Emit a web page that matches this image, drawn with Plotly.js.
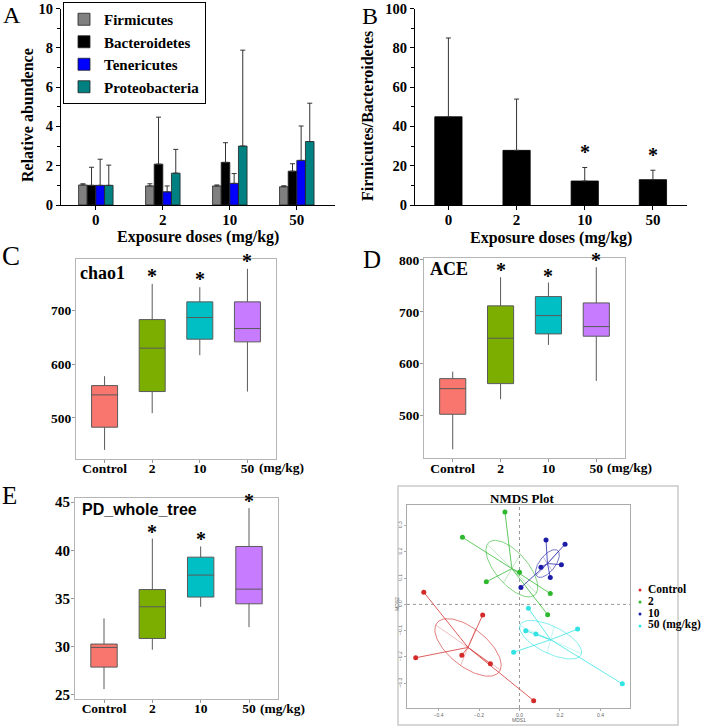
<!DOCTYPE html>
<html><head><meta charset="utf-8">
<script src="https://cdn.plot.ly/plotly-3.0.1.min.js"></script>
<style>html,body{margin:0;padding:0;background:#fff}#chart{width:709px;height:728px}</style>
</head><body><div id="chart"></div>
<script>
// ---------------- Panel A: relative abundance ----------------
const doses = ['0', '2', '10', '50'];
const phyla = ['Firmicutes', 'Bacteroidetes', 'Tenericutes', 'Proteobacteria'];
const firmicutes = [1.02, 0.97, 0.97, 0.93];
const firmicutesErr = [0.06, 0.11, 0.05, 0.05];
const bacteroidetes = [1.00, 2.08, 2.17, 1.72];
const bacteroidetesErr = [0.92, 2.39, 1.00, 0.38];
const tenericutes = [1.00, 0.67, 1.10, 2.27];
const tenericutesErr = [1.33, 0.30, 0.50, 1.75];
const proteobacteria = [1.00, 1.62, 3.00, 3.23];
const proteobacteriaErr = [1.03, 1.21, 4.88, 1.95];

// ---------------- Panel B: Firmicutes/Bacteroidetes ----------------
const fbRatio = [44.9, 27.8, 12.2, 12.9];
const fbRatioErr = [40.1, 26.1, 6.9, 4.8];
const fbSignificant = [false, false, true, true];

// ---------------- Panels C-E: alpha diversity box plots ----------------
const groups = ['Control', '2', '10', '50'];
const groupSignificant = [false, true, true, true];
const chao1Lower = [440.6, 508.9, 616.9, 549.2];
const chao1Q1 = [482.8, 549.2, 646.7, 641.7];
const chao1Median = [543.0, 630.0, 687.0, 666.5];
const chao1Q3 = [560.3, 683.2, 716.2, 716.2];
const chao1Upper = [577.8, 749.7, 743.5, 777.7];

const aceLower = [435.3, 531.6, 636.2, 566.9];
const aceQ1 = [502.7, 561.7, 657.4, 653.0];
const aceMedian = [552.0, 649.1, 692.7, 671.5];
const aceQ3 = [571.3, 711.4, 729.3, 717.1];
const aceUpper = [584.8, 766.6, 756.3, 785.9];

const pdLower = [25.60, 29.68, 34.14, 32.03];
const pdQ1 = [27.88, 30.85, 35.15, 34.45];
const pdMedian = [29.92, 34.14, 37.43, 35.97];
const pdQ3 = [30.27, 35.93, 39.29, 40.40];
const pdUpper = [32.93, 41.22, 40.40, 44.38];

// ---------------- Panel F: NMDS ----------------
const nmdsGroups = ['Control', '2', '10', '50 (mg/kg)'];
const controlMDS1 = [-0.473, -0.182, -0.513, -0.285, -0.144, 0.070];
const controlMDS2 = [0.046, -0.040, -0.203, -0.193, -0.226, -0.366];
const dose2MDS1 = [-0.072, -0.282, 0.000, -0.164, 0.152, 0.139];
const dose2MDS2 = [0.351, 0.255, 0.122, 0.086, 0.041, -0.039];
const dose10MDS1 = [0.131, 0.225, 0.106, 0.207, 0.152, 0.007];
const dose10MDS2 = [0.245, 0.229, 0.141, 0.151, 0.102, 0.064];
const dose50MDS1 = [0.044, 0.031, 0.081, 0.287, -0.029, 0.508];
const dose50MDS2 = [-0.015, -0.100, -0.113, -0.094, -0.182, -0.302];

// ---------------- styling ----------------
const W = 709, H = 728;
const SERIF = 'Liberation Serif, Times New Roman, serif';
const SANS = 'Liberation Sans, Arial, sans-serif';
const px = v => v / W;
const py = v => 1 - v / H;
const phylaColors = ['#808080', '#000000', '#0000ff', '#008080'];
const boxColors = ['#F8766D', '#7CAE00', '#00BFC4', '#C77CFF'];
const nmdsColors = ['#d42a2a', '#2db82d', '#1c1ca8', '#33e3e3'];
const ELLIPSE_SCALE = 0.75;

const traces = [];

// Panel A bars
const aVals = [firmicutes, bacteroidetes, tenericutes, proteobacteria];
const aErrs = [firmicutesErr, bacteroidetesErr, tenericutesErr, proteobacteriaErr];
phyla.forEach((name, i) => {
  traces.push({
    type: 'bar', name: name, x: doses, y: aVals[i], xaxis: 'x', yaxis: 'y',
    marker: {color: phylaColors[i], line: {color: '#222', width: 0.8}},
    error_y: {type: 'data', symmetric: false, array: aErrs[i], arrayminus: aErrs[i].map(() => 0),
              color: '#333', thickness: 1, width: 2.5},
    hoverinfo: 'skip'
  });
});

// Panel B bars
traces.push({
  type: 'bar', name: 'Firmicutes/Bacteroidetes', x: doses, y: fbRatio, xaxis: 'x2', yaxis: 'y2',
  width: 0.4, showlegend: false,
  marker: {color: '#000', line: {color: '#000', width: 0.8}},
  error_y: {type: 'data', symmetric: false, array: fbRatioErr, arrayminus: fbRatioErr.map(() => 0),
            color: '#333', thickness: 1, width: 2.5},
  hoverinfo: 'skip'
});

// Panels C-E boxes
function addBoxes(xa, ya, lo, q1, med, q3, hi) {
  groups.forEach((g, i) => {
    traces.push({
      type: 'box', xaxis: xa, yaxis: ya, x: [g], name: g, showlegend: false,
      lowerfence: [lo[i]], q1: [q1[i]], median: [med[i]], q3: [q3[i]], upperfence: [hi[i]],
      fillcolor: boxColors[i], line: {color: '#5a5a5a', width: 1}, whiskerwidth: 0,
      boxpoints: false, hoverinfo: 'skip'
    });
  });
}
addBoxes('x3', 'y3', chao1Lower, chao1Q1, chao1Median, chao1Q3, chao1Upper);
addBoxes('x4', 'y4', aceLower, aceQ1, aceMedian, aceQ3, aceUpper);
addBoxes('x5', 'y5', pdLower, pdQ1, pdMedian, pdQ3, pdUpper);

// Panel F NMDS
const mean = a => a.reduce((s, v) => s + v, 0) / a.length;
function ellipseOf(xs, ys, k) {
  const n = xs.length, cx = mean(xs), cy = mean(ys);
  let a = 0, b = 0, c = 0;
  for (let i = 0; i < n; i++) {
    const dx = xs[i] - cx, dy = ys[i] - cy;
    a += dx * dx; b += dx * dy; c += dy * dy;
  }
  a /= (n - 1); b /= (n - 1); c /= (n - 1);
  const m = (a + c) / 2, d = Math.sqrt(((a - c) / 2) ** 2 + b * b);
  const r1 = k * Math.sqrt(m + d), r2 = k * Math.sqrt(Math.max(m - d, 0));
  const th = 0.5 * Math.atan2(2 * b, a - c), ct = Math.cos(th), st = Math.sin(th);
  const ex = [], ey = [];
  for (let j = 0; j <= 90; j++) {
    const t = 2 * Math.PI * j / 90;
    ex.push(cx + r1 * Math.cos(t) * ct - r2 * Math.sin(t) * st);
    ey.push(cy + r1 * Math.cos(t) * st + r2 * Math.sin(t) * ct);
  }
  const axX = [cx - r1 * ct, cx + r1 * ct, null, cx + r2 * st, cx - r2 * st];
  const axY = [cy - r1 * st, cy + r1 * st, null, cy - r2 * ct, cy + r2 * ct];
  return {cx, cy, ex, ey, axX, axY};
}
const nmdsX = [controlMDS1, dose2MDS1, dose10MDS1, dose50MDS1];
const nmdsY = [controlMDS2, dose2MDS2, dose10MDS2, dose50MDS2];
nmdsGroups.forEach((g, i) => {
  const e = ellipseOf(nmdsX[i], nmdsY[i], ELLIPSE_SCALE);
  const sx = [], sy = [];
  nmdsX[i].forEach((v, j) => { sx.push(e.cx, v, null); sy.push(e.cy, nmdsY[i][j], null); });
  const common = {type: 'scatter', xaxis: 'x6', yaxis: 'y6', showlegend: false, hoverinfo: 'skip'};
  traces.push(Object.assign({}, common, {mode: 'lines', x: sx, y: sy,
    line: {color: nmdsColors[i], width: 1}, opacity: 0.75}));
  traces.push(Object.assign({}, common, {mode: 'lines', x: e.ex, y: e.ey,
    line: {color: nmdsColors[i], width: 1}, opacity: 0.6}));
  traces.push(Object.assign({}, common, {mode: 'lines', x: e.axX, y: e.axY,
    line: {color: nmdsColors[i], width: 0.6}, opacity: 0.5}));
  traces.push(Object.assign({}, common, {mode: 'markers', name: g, x: nmdsX[i], y: nmdsY[i],
    marker: {color: nmdsColors[i], size: 5}}));
});

// ---------------- axes ----------------
const tickBold = s => ({family: SERIF, size: s, color: '#000', weight: 700});
function barX(domain, range) {
  return {domain, type: 'category', range, showline: true, linecolor: '#000', linewidth: 1,
    ticks: 'outside', ticklen: 4, tickcolor: '#000', tickfont: tickBold(15),
    ticklabelstandoff: -3,
    showgrid: false, zeroline: false, fixedrange: true};
}
function barY(domain, range, dtick) {
  return {domain, range, dtick, showline: true, linecolor: '#000', linewidth: 1,
    ticks: 'outside', ticklen: 4, tickcolor: '#000', tickfont: tickBold(14.5),
    ticklabeloverflow: 'allow',
    minor: {ticks: 'outside', ticklen: 3, dtick: dtick / 2, tickcolor: '#000'},
    showgrid: false, zeroline: false, fixedrange: true};
}
function boxX(domain, anchor) {
  return {domain, anchor, type: 'category', categoryorder: 'array', categoryarray: groups,
    range: [-0.6, 3.6], showline: true, mirror: true, linecolor: '#b5b5b5', linewidth: 1,
    ticks: 'outside', ticklen: 3, tickcolor: '#999', tickfont: tickBold(13.5),
    ticklabelstandoff: -6, ticklabeloverflow: 'allow',
    showgrid: false, zeroline: false, fixedrange: true};
}
function boxY(domain, anchor, range, dtick, size) {
  return {domain, anchor, range, dtick, tick0: 0, showline: true, mirror: true, linecolor: '#b5b5b5',
    linewidth: 1, ticks: 'outside', ticklen: 3, tickcolor: '#999', tickfont: tickBold(size),
    ticklabelstandoff: -2, ticklabeloverflow: 'allow',
    showgrid: false, zeroline: false, fixedrange: true};
}
const nmdsTick = () => ({family: SANS, size: 5, color: '#666'});

const layout = {
  width: W, height: H, autosize: false,
  margin: {l: 0, r: 0, t: 0, b: 0},
  paper_bgcolor: '#fff', plot_bgcolor: '#fff',
  barmode: 'group', bargap: 0.485, bargroupgap: 0,
  boxmode: 'overlay', boxgap: 0.22,
  showlegend: true,
  legend: {x: px(63), y: py(2), xanchor: 'left', yanchor: 'top', bgcolor: '#fff',
    bordercolor: '#000', borderwidth: 1, tracegroupgap: 0,
    font: {family: SERIF, size: 15, color: '#000', weight: 700}},
  xaxis: Object.assign(barX([px(61), px(335)], [-0.52, 3.57]), {anchor: 'y'}),
  yaxis: Object.assign(barY([py(205), py(8.5)], [0, 10], 2), {anchor: 'x'}),
  xaxis2: Object.assign(barX([px(415), px(687)], [-0.49, 3.5]), {anchor: 'y2'}),
  yaxis2: Object.assign(barY([py(205), py(8.5)], [0, 100], 20), {anchor: 'x2'}),
  xaxis3: boxX([px(76), px(276)], 'y3'),
  yaxis3: boxY([py(459), py(259)], 'x3', [423.6, 796], 100, 13.5),
  xaxis4: boxX([px(424), px(625)], 'y4'),
  yaxis4: boxY([py(458.3), py(258.3)], 'x4', [417.9, 803], 100, 13.5),
  xaxis5: boxX([px(75), px(278)], 'y5'),
  yaxis5: boxY([py(698.7), py(498.3)], 'x5', [24.6, 45.4], 5, 15),
  xaxis6: {domain: [px(407), px(630)], anchor: 'y6', range: [-0.556, 0.546], dtick: 0.2, tick0: 0,
    tickformat: '.1f', showline: true, mirror: true, linecolor: '#aaa', linewidth: 1,
    ticks: 'outside', ticklen: 2, tickcolor: '#aaa', tickfont: nmdsTick(),
    showgrid: false, zeroline: false, fixedrange: true},
  yaxis6: {domain: [py(708), py(505)], anchor: 'x6', range: [-0.394, 0.378], dtick: 0.1, tick0: 0,
    tickformat: '.1f', tickangle: -90, showline: true, mirror: true, linecolor: '#aaa', linewidth: 1,
    ticks: 'outside', ticklen: 2, tickcolor: '#aaa', tickfont: nmdsTick(),
    showgrid: false, zeroline: false, fixedrange: true},
  shapes: [
    {type: 'line', xref: 'x6', yref: 'y6 domain', x0: 0, x1: 0, y0: 0, y1: 1,
     line: {color: '#999', width: 1, dash: 'dot'}, layer: 'below'},
    {type: 'line', xref: 'x6 domain', yref: 'y6', x0: 0, x1: 1, y0: 0, y1: 0,
     line: {color: '#999', width: 1, dash: 'dot'}, layer: 'below'},
    {type: 'rect', xref: 'paper', yref: 'paper', x0: px(398), x1: px(678), y0: py(725), y1: py(486),
     line: {color: '#cacaca', width: 1.5}}
  ],
  annotations: []
};

const ann = layout.annotations;
function txt(text, x, y, size, opts) {
  ann.push(Object.assign({text, x: px(x), y: py(y), xref: 'paper', yref: 'paper', showarrow: false,
    xanchor: 'center', yanchor: 'middle', font: {family: SERIF, size, color: '#000'}}, opts || {}));
}
// panel letters
txt('A', 12, 0, 24, {yanchor: 'top'});
txt('B', 370, 1, 24, {yanchor: 'top'});
txt('C', 11, 256, 27);
txt('D', 372, 259, 25);
txt('E', 9, 495, 25);
// axis titles
txt('<b>Relative abundence</b>', 27, 115, 16, {textangle: -90});
txt('<b>Firmicutes/Bacteroidetes</b>', 368, 116, 16, {textangle: -90});
txt('<b>Exposure doses (mg/kg)</b>', 198, 237, 16);
txt('<b>Exposure doses (mg/kg)</b>', 551, 238.5, 16);
// inner labels of box panels
txt('<b>chao1</b>', 78, 273, 18, {xanchor: 'left'});
txt('<b>ACE</b>', 428, 269, 18, {xanchor: 'left'});
txt('<b>PD_whole_tree</b>', 80, 510, 16, {xanchor: 'left', font: {family: SANS, size: 16, color: '#000'}});
// unit text after the "50" tick labels
txt('<b>(mg/kg)</b>', 257, 467, 13.5, {xanchor: 'left'});
txt('<b>(mg/kg)</b>', 605, 467, 13.5, {xanchor: 'left'});
txt('<b>(mg/kg)</b>', 258, 708, 13.5, {xanchor: 'left'});
// NMDS texts
txt('<b>NMDS Plot</b>', 522, 498, 13);
txt('MDS1', 519, 720, 5, {font: {family: SANS, size: 5, color: '#666'}});
txt('MDS2', 397, 604, 5, {textangle: -90, font: {family: SANS, size: 5, color: '#666'}});
const legendTextY = [588.5, 600.5, 612.5, 624.5];
nmdsGroups.forEach((g, i) => {
  txt('<b>' + g + '</b>', 646, legendTextY[i], 11.5, {xanchor: 'left'});
  layout.shapes.push({type: 'circle', xref: 'paper', yref: 'paper',
    x0: px(638.5), x1: px(641.5), y0: py(legendTextY[i] + 3), y1: py(legendTextY[i]),
    fillcolor: nmdsColors[i], line: {width: 0}});
});

// significance stars
function stars(xref, yref, tops, sig, shift) {
  tops.forEach((t, i) => {
    if (!sig[i]) return;
    ann.push({xref, yref, x: i, y: t, text: '<b>*</b>', showarrow: false, yanchor: 'middle',
      yshift: shift, font: {family: SERIF, size: 20, color: '#000'}});
  });
}
stars('x2', 'y2', fbRatio.map((v, i) => v + fbRatioErr[i]), fbSignificant, 15);
stars('x3', 'y3', chao1Upper, groupSignificant, 8);
stars('x4', 'y4', aceUpper, groupSignificant, 7);
stars('x5', 'y5', pdUpper, groupSignificant, 7);

Plotly.newPlot('chart', traces, layout, {displayModeBar: false, staticPlot: true});
</script>
</body></html>
